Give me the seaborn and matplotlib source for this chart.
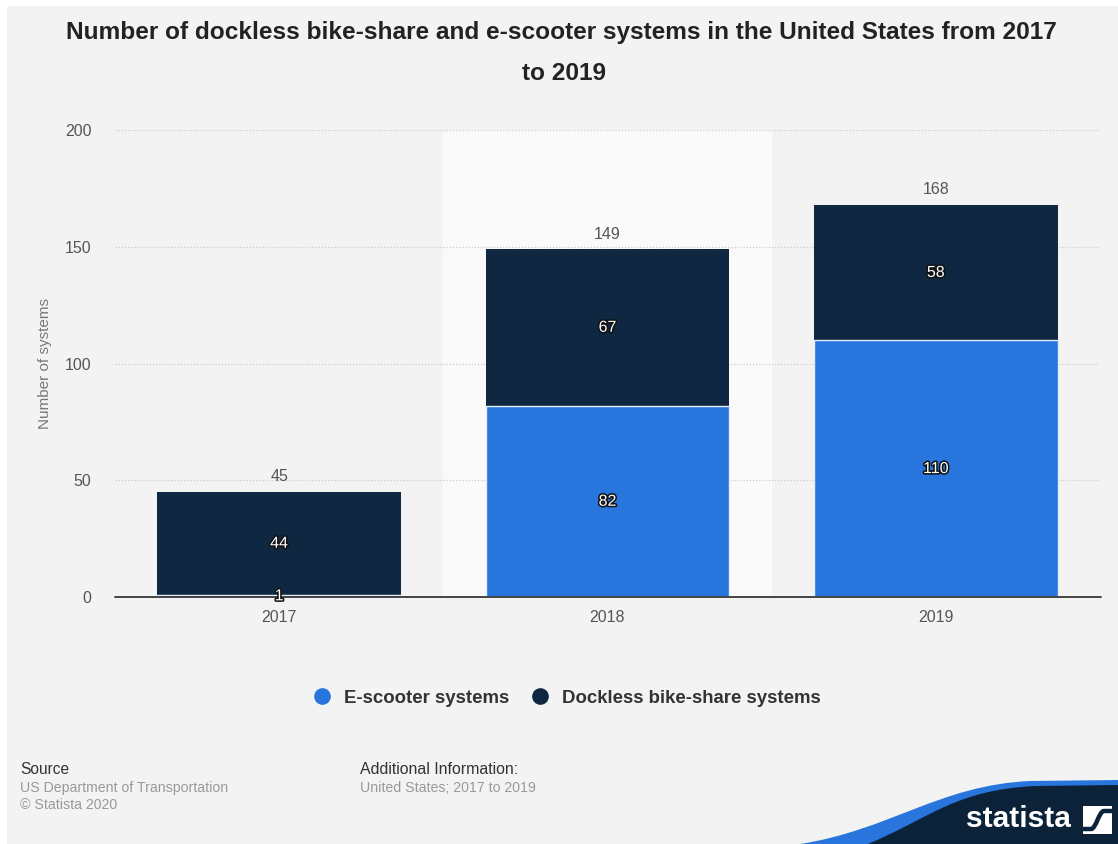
import matplotlib
matplotlib.use("Agg")
import matplotlib.pyplot as plt
import matplotlib.patheffects as pe
from matplotlib.patches import Rectangle, PathPatch
from matplotlib.path import Path
from matplotlib.lines import Line2D
import seaborn as sns
import pandas as pd

# Data
years = ["2017", "2018", "2019"]
escooter = [1, 82, 110]
dockless = [44, 67, 58]
series_names = ["E-scooter systems", "Dockless bike-share systems"]
yticks = [0, 50, 100, 150, 200]

BLUE = "#2876dd"
NAVY = "#0f2740"
LOGO_NAVY = "#0c2238"
BG = "#f3f3f3"

sns.set_theme(style="white")
plt.rcParams["font.family"] = ["Liberation Sans", "DejaVu Sans"]

W, H = 1118, 844
fig = plt.figure(figsize=(W / 100, H / 100), dpi=100, facecolor="white")


def fpt(x, y):
    """Pixel position (from top-left) to figure fraction."""
    return (x / W, 1 - y / H)


# page background with thin white margin
fig.patches.append(Rectangle((7 / W, 0), 1 - 7 / W, 1 - 6 / H, transform=fig.transFigure,
                             facecolor=BG, edgecolor="none", zorder=-10))

ax = fig.add_axes([115 / W, 1 - 597 / H, (1100 - 115) / W, (597 - 130) / H])
ax.set_facecolor("none")

df = pd.DataFrame({"year": years, "escooter": escooter, "dockless": dockless})
df["total"] = df["escooter"] + df["dockless"]

# highlighted column band
ax.axvspan(0.5, 1.5, ymin=0, ymax=1, color="#fafafa", zorder=0, lw=0)

# dotted grid
for t in yticks[1:]:
    ax.axhline(t, color="#cccccc", lw=0.9, ls=(0, (1, 1.5)), zorder=0.5)

# stacked bars: totals (navy) with the e-scooter segment (blue) drawn over them
sns.barplot(data=df, x="year", y="total", color=NAVY, width=0.743, ax=ax,
            saturation=1, zorder=2, edgecolor="none")
sns.barplot(data=df, x="year", y="escooter", color=BLUE, width=0.743, ax=ax,
            saturation=1, zorder=3, edgecolor="#e8eef8", linewidth=1.0)

ax.axhline(0, color="#444444", lw=1.4, zorder=5, xmin=0, xmax=1.001, clip_on=False)

ax.set_xlim(-0.5, 2.5)
ax.set_ylim(0, 200)
ax.set_yticks(yticks)
ax.set_yticklabels([str(t) for t in yticks])
for s in ax.spines.values():
    s.set_visible(False)
ax.tick_params(axis="both", length=0, labelsize=11.5, labelcolor="#555555")
ax.tick_params(axis="y", pad=17)
ax.tick_params(axis="x", pad=9)
ax.set_xlabel("")
ax.set_ylabel("Number of systems", fontsize=11, color="#777777", labelpad=9)

stroke = [pe.withStroke(linewidth=2.2, foreground="#111111")]
for i, row in df.iterrows():
    ax.text(i, row["total"] + 3.2, f"{row['total']}", ha="center", va="bottom",
            fontsize=11.5, color="#555555", zorder=6)
    ax.text(i, row["escooter"] / 2, f"{row['escooter']}", ha="center", va="center",
            fontsize=11.5, color="white", path_effects=stroke, zorder=6)
    ax.text(i, row["escooter"] + row["dockless"] / 2, f"{row['dockless']}", ha="center",
            va="center", fontsize=11.5, color="white", path_effects=stroke, zorder=6)

# title (two lines)
fig.text(*fpt(561, 33),
         "Number of dockless bike-share and e-scooter systems in the United States from 2017",
         ha="center", va="center", fontsize=17.6, fontweight="bold", color="#222222")
fig.text(*fpt(564, 73), "to 2019",
         ha="center", va="center", fontsize=17.6, fontweight="bold", color="#222222")

# legend
handles = [Line2D([], [], marker="o", ls="none", markersize=12, markerfacecolor=c,
                  markeredgecolor="none") for c in (BLUE, NAVY)]
leg = fig.legend(handles, series_names, loc="center", bbox_to_anchor=fpt(562, 698),
                 ncol=2, frameon=False, handletextpad=0.2, columnspacing=0.66,
                 prop={"size": 13.4, "weight": "bold"})
for t in leg.get_texts():
    t.set_color("#333333")

# footer
fig.text(*fpt(20, 769), "Source", fontsize=11.2, color="#333333", va="center")
fig.text(*fpt(20, 788), "US Department of Transportation", fontsize=10.2,
         color="#999999", va="center")
fig.text(*fpt(20, 805), "\u00a9 Statista 2020", fontsize=10.2, color="#999999", va="center")
fig.text(*fpt(360, 769), "Additional Information:", fontsize=11.4, color="#333333", va="center")
fig.text(*fpt(360, 788), "United States; 2017 to 2019", fontsize=10.2,
         color="#999999", va="center")

# brand corner: blue swoosh with navy field
blue_band = Path([fpt(800, 844), fpt(890, 830), fpt(940, 785), fpt(1030, 781),
                  fpt(1118, 780), fpt(1118, 844), fpt(800, 844)],
                 [Path.MOVETO, Path.CURVE4, Path.CURVE4, Path.CURVE4,
                  Path.LINETO, Path.LINETO, Path.CLOSEPOLY])
fig.patches.append(PathPatch(blue_band, transform=fig.transFigure, facecolor=BLUE,
                             edgecolor="none", zorder=-5))
navy_band = Path([fpt(868, 844), fpt(930, 818), fpt(955, 790), fpt(1035, 786),
                  fpt(1118, 785), fpt(1118, 844), fpt(868, 844)],
                 [Path.MOVETO, Path.CURVE4, Path.CURVE4, Path.CURVE4,
                  Path.LINETO, Path.LINETO, Path.CLOSEPOLY])
fig.patches.append(PathPatch(navy_band, transform=fig.transFigure, facecolor=LOGO_NAVY,
                             edgecolor="none", zorder=-4))
fig.text(*fpt(1071, 819), "statista", ha="right", va="center", fontsize=21.5,
         fontweight="bold", color="white")
fig.patches.append(Rectangle(fpt(1083, 834), 29 / W, 28 / H, transform=fig.transFigure,
                             facecolor="white", edgecolor="none", zorder=-3))
curve = Path([fpt(1083, 829), fpt(1091, 829), fpt(1096, 829), fpt(1099, 811),
              fpt(1104, 811), fpt(1112, 811)],
             [Path.MOVETO, Path.LINETO, Path.CURVE4, Path.CURVE4, Path.CURVE4,
              Path.LINETO])
fig.patches.append(PathPatch(curve, transform=fig.transFigure, facecolor="none",
                             edgecolor=LOGO_NAVY, lw=3.2, zorder=-2, capstyle="butt"))

fig.savefig("out.png", dpi=100, facecolor=fig.get_facecolor())
